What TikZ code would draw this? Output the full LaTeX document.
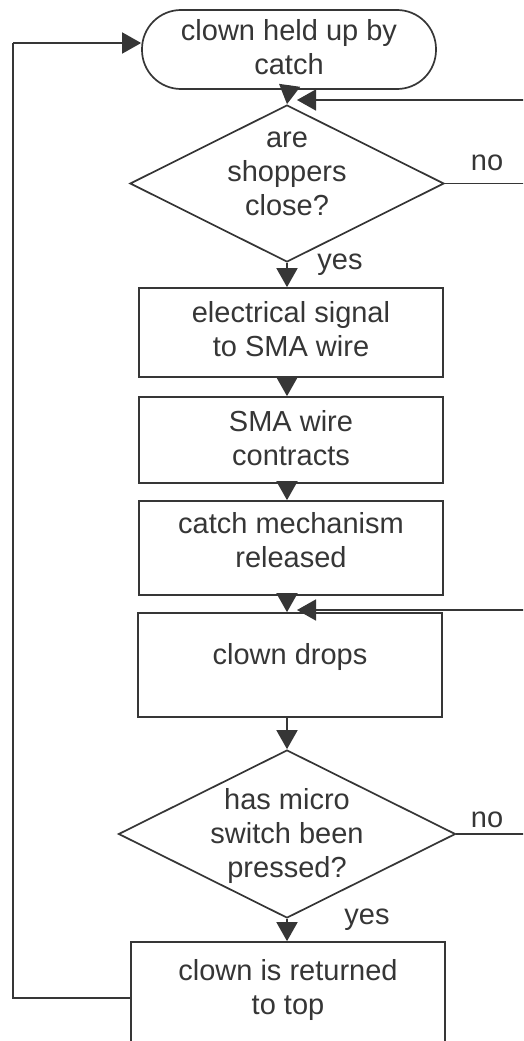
\documentclass[tikz,border=0pt]{standalone}
\usepackage{fontspec}
\setmainfont{Liberation Sans}
\usetikzlibrary{arrows.meta,shapes.geometric}
\definecolor{ink}{HTML}{363636}
\tikzset{
  flow/.style={draw=ink, line width=1.7pt},
  procbox/.style={flow, rectangle, inner sep=0pt},
  termbox/.style={flow, rectangle, rounded corners=39pt, inner sep=0pt},
  decide/.style={flow, diamond, inner sep=0pt},
  txt/.style={text=ink, align=center, inner sep=0pt, font=\fontsize{29}{34}\selectfont},
  lbl/.style={text=ink, inner sep=0pt, font=\fontsize{29}{34}\selectfont},
  conn/.style={draw=ink, line width=1.7pt, -{Triangle[length=19pt,width=21pt]}},
  wire/.style={draw=ink, line width=1.7pt}
}
\begin{document}
\begin{tikzpicture}[x=1pt,y=-1pt]
\useasboundingbox (0,0) rectangle (523,1041);
\clip (0,0) rectangle (523,1041);
\fill[white] (0,0) rectangle (523,1041);

% shapes
\node[termbox, minimum width=294pt, minimum height=79pt] (start) at (289,49.5) {};
\node[txt] (starttxt) at (289,47) {clown held up by\\catch};

\node[decide, minimum width=314pt, minimum height=157pt] (q1) at (287,183.5) {};
\node[txt] (q1txt) at (287,174) {are\\shoppers\\close?};

\node[procbox, minimum width=304pt, minimum height=89pt] (sig) at (291,332.5) {};
\node[txt] (sigtxt) at (291,329) {electrical signal\\to SMA wire};

\node[procbox, minimum width=304pt, minimum height=86pt] (wire) at (291,440) {};
\node[txt] (wiretxt) at (291,438) {SMA wire\\contracts};

\node[procbox, minimum width=304pt, minimum height=94pt] (catch) at (291,548) {};
\node[txt] (catchtxt) at (291,540) {catch mechanism\\released};

\node[procbox, minimum width=304pt, minimum height=104pt] (drop) at (290,665) {};
\node[txt] (droptxt) at (290,657) {clown drops};

\node[decide, minimum width=337pt, minimum height=168pt] (q2) at (287,834) {};
\node[txt] (q2txt) at (287,836) {has micro\\switch been\\pressed?};

\node[procbox, minimum width=314pt, minimum height=112pt] (ret) at (288,998) {};
\node[txt] (rettxt) at (288,990) {clown is returned\\to top};

% main flow
\draw[conn] (start.south) -- (q1.north);
\draw[conn] (q1.south) -- (sig.north -| q1.south);
\draw[conn] (sig.south -| q1.south) -- (wire.north -| q1.south);
\draw[conn] (wire.south -| q1.south) -- (catch.north -| q1.south);
\draw[conn] (catch.south -| q1.south) -- (drop.north -| q1.south);
\draw[conn] (drop.south -| q2.north) -- (q2.north);
\draw[conn] (q2.south) -- (ret.north -| q2.south);

% "no" loops back along the right edge
\coordinate (r1) at (540,100);
\coordinate (t1) at (297,100);
\draw[wire] (q1.east) -- (q1.east -| r1) -- (r1);
\draw[conn] (r1) -- (t1);

\coordinate (r2) at (540,610);
\coordinate (t2) at (297,610);
\draw[wire] (q2.east) -- (q2.east -| r2) -- (r2);
\draw[conn] (r2) -- (t2);

% return path along the left edge
\coordinate (l1) at (13,43);
\draw[wire] (ret.west) -- (ret.west -| l1) -- (l1);
\draw[conn] (l1) -- (start.west |- l1);

% branch labels
\node[lbl] (no1) at (487,163) {no};
\node[lbl] (yes1) at (340,265) {yes};
\node[lbl] (no2) at (487,820) {no};
\node[lbl] (yes2) at (367,920) {yes};
\end{tikzpicture}
\end{document}
